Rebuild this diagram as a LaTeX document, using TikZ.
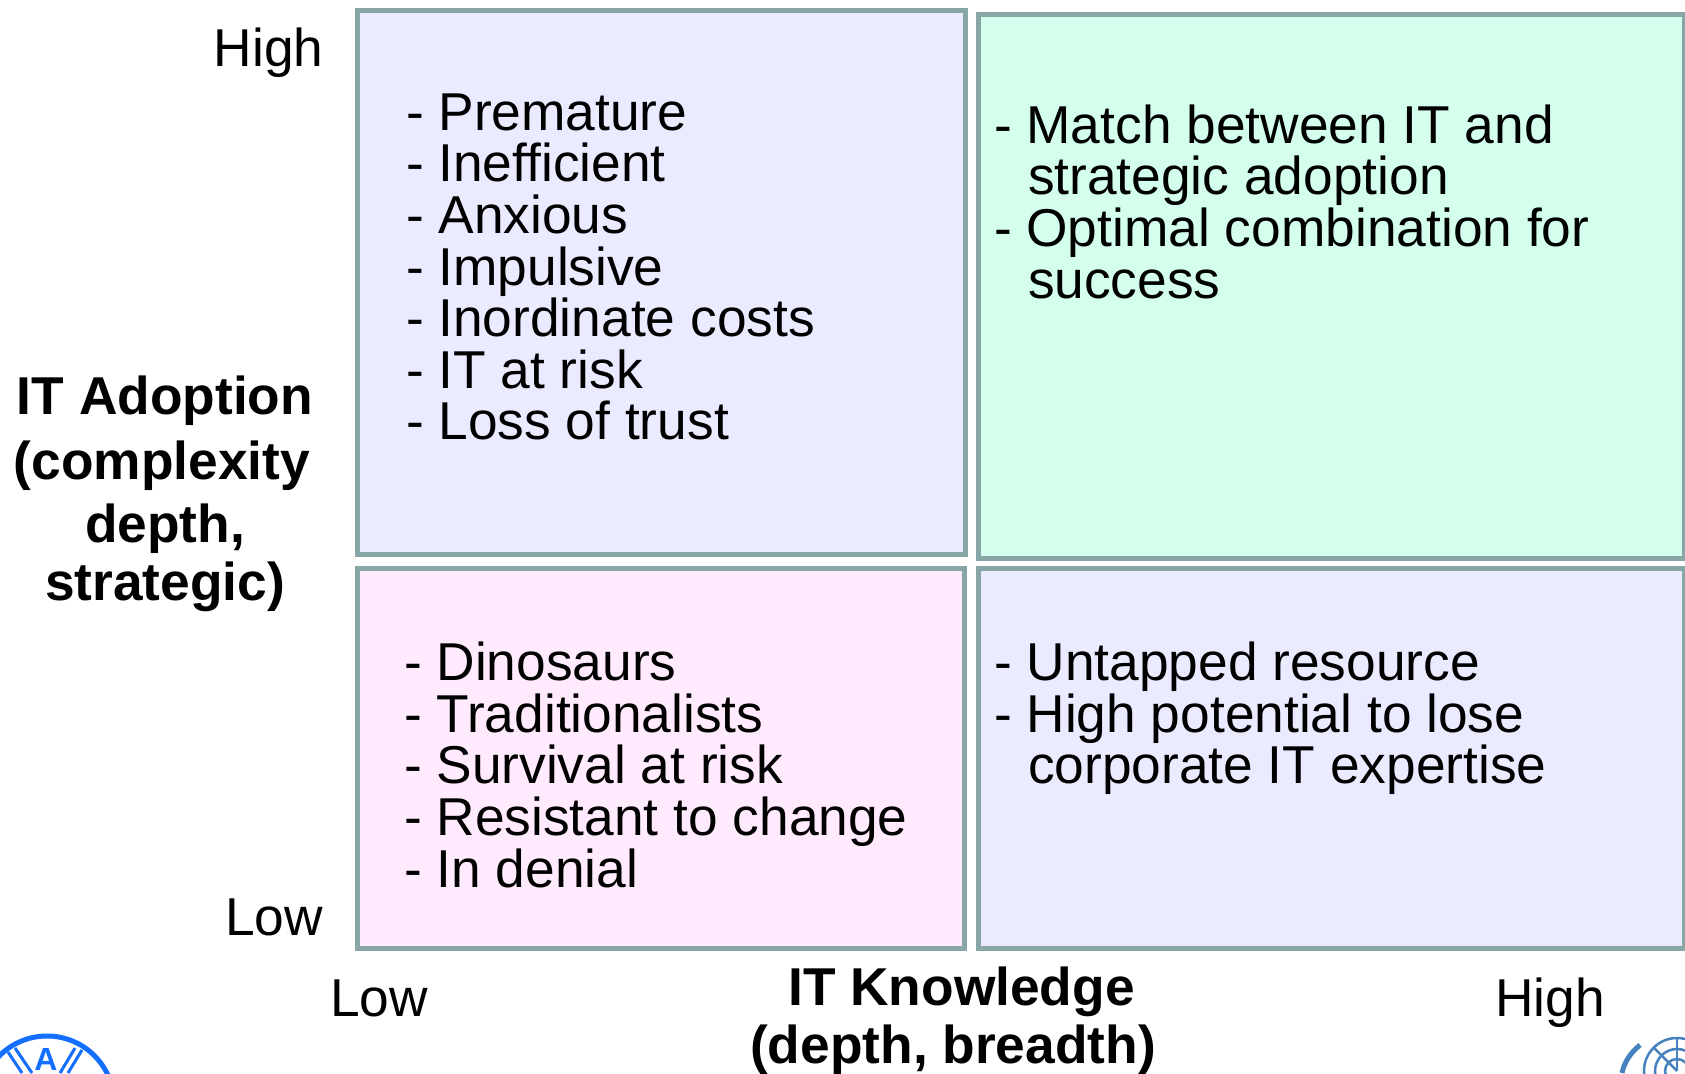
\documentclass[tikz,border=0pt]{standalone}
\usepackage{fontspec}
\setmainfont{Liberation Sans}
\definecolor{edgeColor}{RGB}{137,166,166}
\definecolor{lilacColor}{RGB}{235,235,255}
\definecolor{mintColor}{RGB}{211,255,236}
\definecolor{pinkColor}{RGB}{255,235,253}
\definecolor{logoBlue}{RGB}{20,110,255}
\definecolor{globeBlue}{RGB}{70,130,190}
\tikzset{
  quadrant/.style={draw=edgeColor,line width=5pt},
  listtext/.style={anchor=north west,align=left,inner sep=0pt,outer sep=0pt,font=\fontsize{53.3}{51.6}\selectfont},
  axistext/.style={inner sep=0pt,outer sep=0pt,font=\fontsize{53.3}{51.6}\selectfont},
  headtext/.style={inner sep=0pt,outer sep=0pt,align=center,font=\fontsize{53.3}{58}\selectfont\bfseries},
}
\newcommand{\hang}{\hspace*{34pt}}
\begin{document}
\begin{tikzpicture}[x=1pt,y=1pt]
\path[use as bounding box,fill=white] (0,0) rectangle (1685,1073);
% quadrants
\path[quadrant,fill=lilacColor] (357,1062) rectangle (965,518);
\path[quadrant,fill=mintColor] (978,1058.5) rectangle (1684,514);
\path[quadrant,fill=pinkColor] (357,504.5) rectangle (964,124);
\path[quadrant,fill=lilacColor] (978,504.5) rectangle (1684,124);
% quadrant texts
\node[listtext] (tlText) at (406,979.3) {- Premature\\- Inefficient\\- Anxious\\- Impulsive\\- Inordinate costs\\- IT at risk\\- Loss of trust};
\node[listtext] (trText) at (994,968.4) {- Match between IT and\\\hang strategic adoption\\- Optimal combination for\\\hang success};
\node[listtext] (blText) at (404,431) {- Dinosaurs\\- Traditionalists\\- Survival at risk\\- Resistant to change\\- In denial};
\node[listtext] (brText) at (994,431) {- Untapped resource\\- High potential to lose\\\hang corporate IT expertise};
% axes
\node[axistext,anchor=base east] (yHigh) at (323.5,1006) {High};
\node[axistext,anchor=base east] (yLow) at (323,137) {Low};
\node[axistext,anchor=base west] (xLow) at (330,57) {Low};
\node[axistext,anchor=base east] (xHigh) at (1605,57) {High};
\node[headtext] (yHead) at (165,579) {IT Adoption\\[7pt](complexity\hspace*{6pt}\mbox{}\\[5pt]depth,\\strategic)};
\node[headtext] (xHead) at (953,52.5) {\hspace*{17pt}IT Knowledge\\(depth, breadth)};
% logos
\begin{scope}
\path[clip] (0,0) rectangle (1685,1073);
\draw[logoBlue,line width=5pt] (47,-30) circle (67);
\draw[logoBlue,line width=3pt] (8,21) -- (22,0) (15,25) -- (32,0);
\draw[logoBlue,line width=3pt] (82,23) -- (68,0) (75,25) -- (60,0);
\node[inner sep=0pt,text=logoBlue,font=\fontsize{32}{32}\selectfont\bfseries,anchor=base] (logoA) at (46,3) {A};
\draw[globeBlue,line width=2.5pt] (1677,2) circle (33) (1677,2) circle (22) (1677,2) circle (12);
\draw[globeBlue,line width=2.5pt] (1677,2) -- (1677,35);
\draw[globeBlue,line width=2.5pt] (1677,2) -- ++(135:33);
\draw[globeBlue,line width=5pt] (1622,0) .. controls (1624,10) and (1630,20) .. (1640,28);
\end{scope}
\end{tikzpicture}
\end{document}
